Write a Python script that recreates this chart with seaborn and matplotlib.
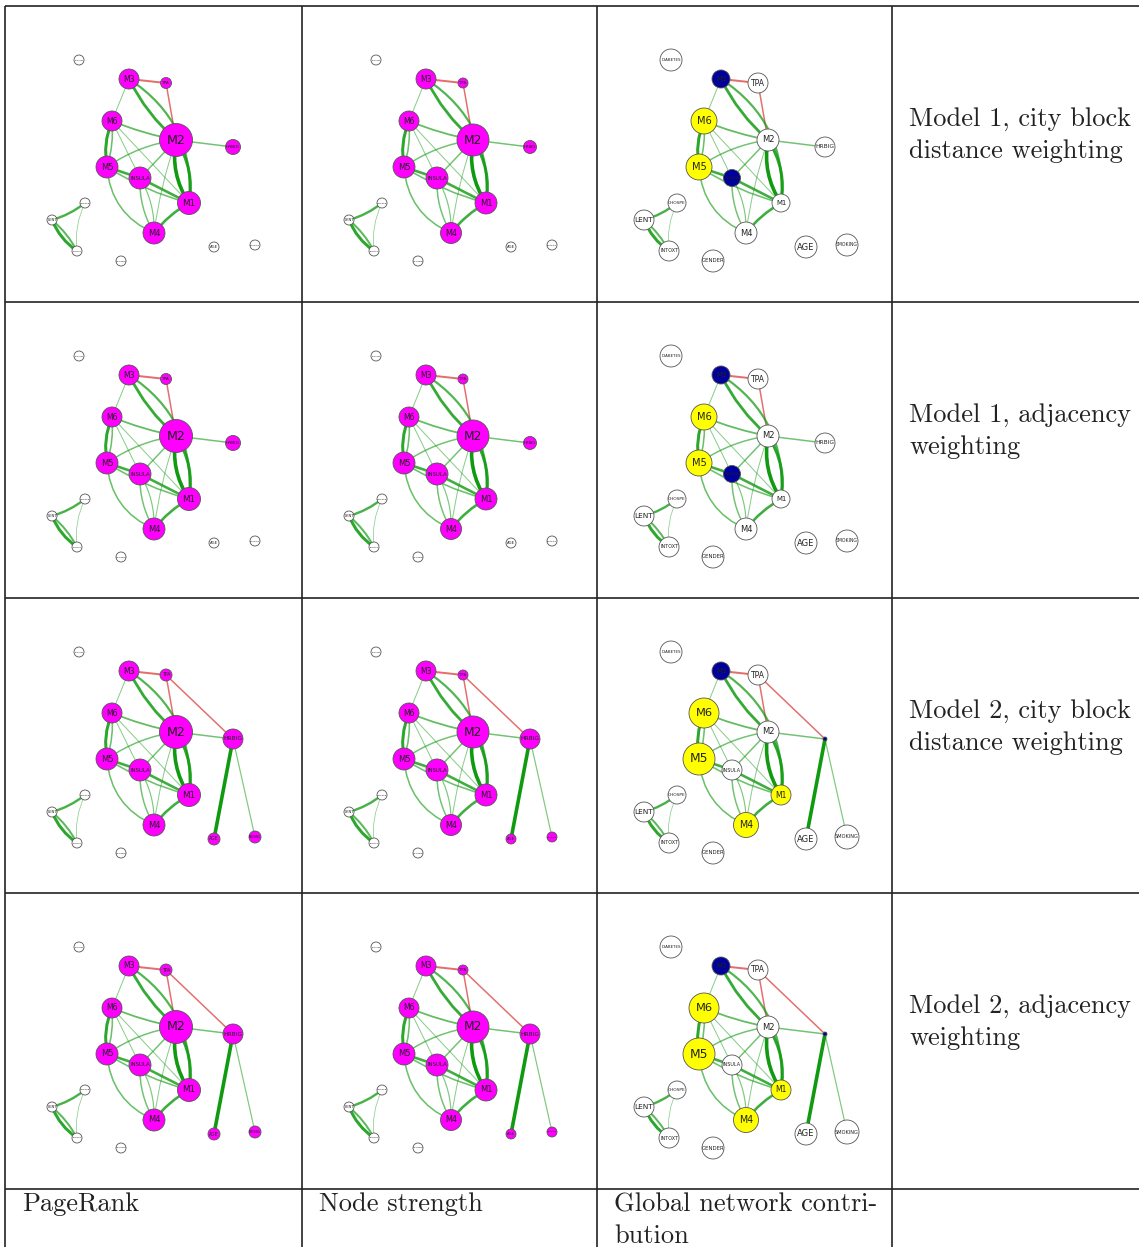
import numpy as np
import pandas as pd
import matplotlib
matplotlib.use("Agg")
import matplotlib.pyplot as plt
from matplotlib.patches import FancyArrowPatch
import seaborn as sns

sns.set_theme(style="white")
plt.rcParams['font.family'] = ['cmr10', 'DejaVu Serif']

W, H = 1139, 1247

# node layout, in pixels inside one table cell
nodes = ['DIABETES', 'M3', 'TPA', 'M6', 'M2', 'HRBIG', 'M5', 'INSULA',
         'M1', 'M4', 'CHOSPE', 'LENT', 'INTOXT', 'GENDER', 'AGE', 'SMOKING']
node_x = [74, 124, 161, 107, 171, 228, 102, 135, 184, 149, 80, 47, 72, 116, 209, 250]
node_y = [54, 73, 77, 115, 134, 141, 161, 172, 197, 227, 197, 214, 245, 255, 241, 239]

# edges of model 1: from, to, width (px), curvature, sign
edge_from = ['M3', 'TPA', 'M3', 'M3', 'M3', 'M6', 'M6', 'M6', 'M6', 'M5', 'M5',
             'M5', 'M5', 'M2', 'M2', 'M2', 'M2', 'M2', 'INSULA', 'INSULA', 'INSULA',
             'M1', 'M6', 'LENT', 'LENT', 'LENT', 'CHOSPE']
edge_to = ['TPA', 'M2', 'M6', 'M2', 'M1', 'M2', 'M5', 'M5', 'INSULA', 'M2', 'INSULA',
           'M1', 'M4', 'HRBIG', 'INSULA', 'M4', 'M1', 'M1', 'M1', 'M4', 'M4',
           'M4', 'M1', 'CHOSPE', 'INTOXT', 'INTOXT', 'INTOXT']
edge_w = [2.0, 1.5, 1.0, 2.8, 2.2, 1.8, 3.0, 1.6, 1.0, 1.5, 2.6,
          1.6, 1.6, 1.5, 1.5, 1.0, 3.6, 3.0, 2.6, 1.5, 1.2,
          2.6, 1.0, 2.4, 3.0, 2.0, 0.8]
edge_rad = [0, 0, 0, 0.1, -0.3, 0.05, 0.15, -0.1, 0, -0.12, 0,
            0.08, 0.3, 0, 0, 0.05, 0.2, -0.2, 0, 0.15, -0.15,
            0.1, 0, 0.1, 0.15, -0.1, 0.15]
edge_sign = ['neg', 'neg'] + ['pos'] * 25

# extra edges of model 2
edge2_from = ['TPA', 'HRBIG', 'HRBIG']
edge2_to = ['HRBIG', 'AGE', 'SMOKING']
edge2_w = [1.5, 3.6, 1.2]
edge2_rad = [0, 0, 0]
edge2_sign = ['neg', 'pos', 'pos']

# node radius (px) per measure and model
pagerank_m1 = [5, 10, 5.5, 10, 16.5, 7.5, 11, 11, 11.5, 11, 5, 5, 5, 5, 5, 5]
pagerank_m2 = [5, 10, 6, 10, 16.5, 10, 11, 11, 11.5, 11, 5, 5, 5, 5, 6, 6]
strength_m1 = [5, 10, 5, 10, 16, 6.5, 11, 11, 11, 10.5, 5, 5, 5, 5, 5, 5]
strength_m2 = [5, 10, 5, 10, 16, 10, 11, 11, 11, 10.5, 5, 5, 5, 5, 5, 5]
gnc_m1 = [11, 9, 10, 13, 11, 10, 13, 8.5, 9, 11, 9, 10, 10, 11, 11, 11]
gnc_m2 = [11, 9, 10, 15, 11, 2, 16, 10, 10, 12.5, 9, 10, 10, 11, 11, 12]

mg, wh, yl, bl = '#ff00ff', '#ffffff', '#ffff00', '#00009a'
fill_m1 = [wh, mg, mg, mg, mg, mg, mg, mg, mg, mg, wh, wh, wh, wh, wh, wh]
fill_m2 = [wh, mg, mg, mg, mg, mg, mg, mg, mg, mg, wh, wh, wh, wh, mg, mg]
gnc_fill_m1 = [wh, bl, wh, yl, wh, wh, yl, bl, wh, wh, wh, wh, wh, wh, wh, wh]
gnc_fill_m2 = [wh, bl, wh, yl, wh, bl, yl, wh, yl, yl, wh, wh, wh, wh, wh, wh]

row_text = [["Model 1, city block", "distance weighting"],
            ["Model 1, adjacency", "weighting"],
            ["Model 2, city block", "distance weighting"],
            ["Model 2, adjacency", "weighting"]]
footer_text = [["PageRank"], ["Node strength"], ["Global network contri-", "bution"]]

col_x = [5, 302, 597, 892]
row_y = [6, 302, 598, 893, 1189]


def draw_network(ax, sizes, fills, model2):
    pos = dict(zip(nodes, zip(node_x, node_y)))
    ef, et, ew, er, es = edge_from, edge_to, edge_w, edge_rad, edge_sign
    if model2:
        ef, et, ew = ef + edge2_from, et + edge2_to, ew + edge2_w
        er, es = er + edge2_rad, es + edge2_sign
    for a, b, w, r, s in zip(ef, et, ew, er, es):
        if s == 'neg':
            col, alpha = '#dd4a4a', 0.8
        else:
            col, alpha = '#109a10', min(1.0, 0.3 + 0.7 * w / 3.6)
        p = FancyArrowPatch(pos[a], pos[b], arrowstyle='-',
                            connectionstyle=f'arc3,rad={r}', lw=w * 0.72,
                            color=col, alpha=alpha, shrinkA=0, shrinkB=0, zorder=1)
        ax.add_patch(p)
    df = pd.DataFrame({'x': node_x, 'y': node_y, 'fill': fills})
    s = (1.44 * np.array(sizes)) ** 2
    sns.scatterplot(data=df, x='x', y='y', hue='fill', palette={c: c for c in set(fills)},
                    s=s, edgecolor='#555555', linewidth=0.6, legend=False, ax=ax, zorder=3)
    for name, x, y, r in zip(nodes, node_x, node_y, sizes):
        fs = min(0.55 * r, 1.7 * r / (0.8 * len(name)))
        ax.text(x, y, name, fontsize=fs, ha='center', va='center',
                family='DejaVu Sans', color='#222222', zorder=4)


fig = plt.figure(figsize=(W / 100, H / 100), dpi=100)
base = fig.add_axes([0, 0, 1, 1])
base.set_xlim(0, W)
base.set_ylim(H, 0)
base.axis('off')

base.hlines(row_y, col_x[0], W, color='#222222', lw=1.2)
base.vlines(col_x, row_y[0], H, color='#222222', lw=1.2)

cells = [[(pagerank_m1, fill_m1), (strength_m1, fill_m1), (gnc_m1, gnc_fill_m1)],
         [(pagerank_m1, fill_m1), (strength_m1, fill_m1), (gnc_m1, gnc_fill_m1)],
         [(pagerank_m2, fill_m2), (strength_m2, fill_m2), (gnc_m2, gnc_fill_m2)],
         [(pagerank_m2, fill_m2), (strength_m2, fill_m2), (gnc_m2, gnc_fill_m2)]]

for i in range(4):
    for j in range(3):
        x0, x1 = col_x[j], col_x[j + 1]
        y0, y1 = row_y[i], row_y[i + 1]
        ax = fig.add_axes([x0 / W, 1 - y1 / H, (x1 - x0) / W, (y1 - y0) / H])
        ax.set_xlim(0, x1 - x0)
        ax.set_ylim(y1 - y0, 0)
        ax.axis('off')
        sizes, fills = cells[i][j]
        draw_network(ax, sizes, fills, model2=(i >= 2))
    for k, line in enumerate(row_text[i]):
        base.text(909, row_y[i] + 120 + 32 * k, line, fontsize=19, va='baseline',
                  ha='left', color='#222222')

for j, lines in enumerate(footer_text):
    for k, line in enumerate(lines):
        base.text(col_x[j] + 17, row_y[4] + 22 + 32 * k, line, fontsize=19,
                  va='baseline', ha='left', color='#222222')

fig.savefig('out.png', dpi=100)
